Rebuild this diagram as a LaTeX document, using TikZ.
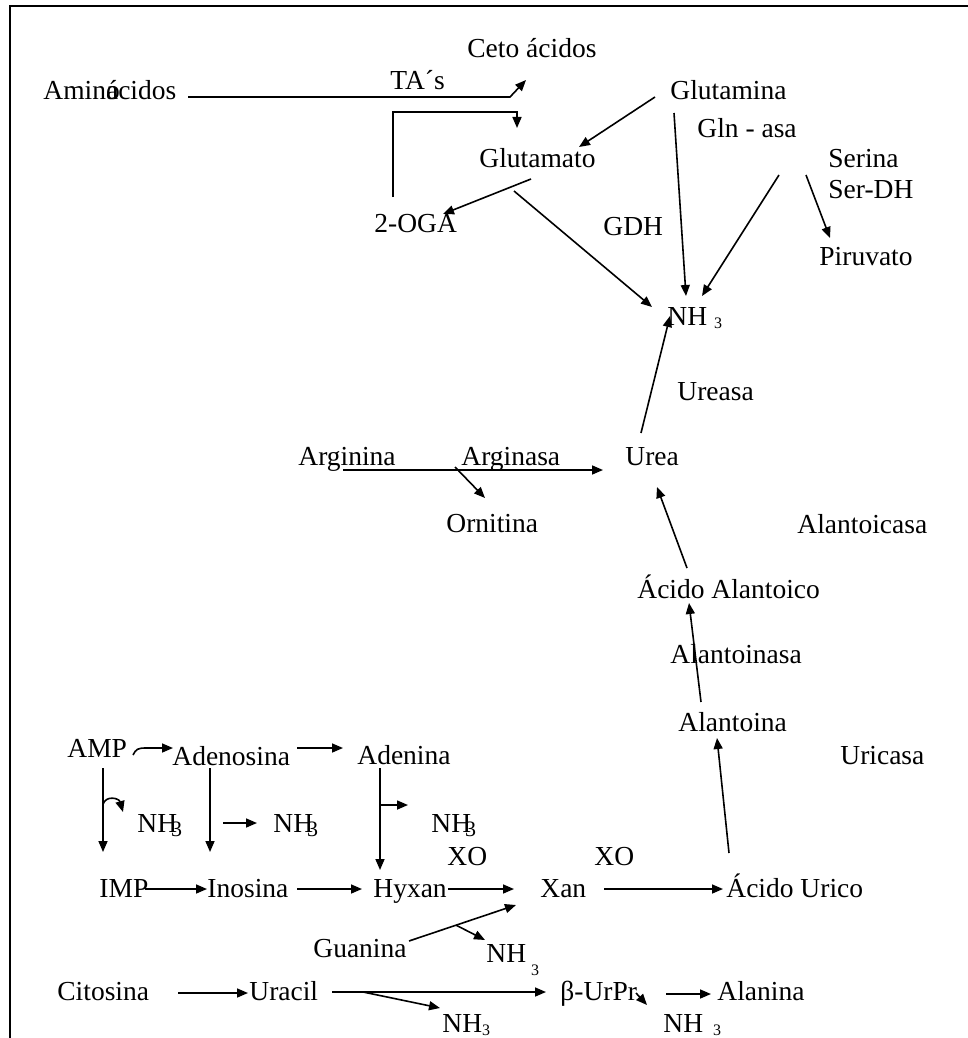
\documentclass[tikz,border=0pt]{standalone}
\usepackage{fontspec}
\setmainfont{Liberation Serif}
\usetikzlibrary{arrows.meta}

\begin{document}
\begin{tikzpicture}[x=0.5pt, y=-0.5pt,
    >={Triangle[length=5.5pt, width=4.5pt]},
    txt/.style={anchor=base west, inner sep=0pt, font=\fontsize{13.75}{16}\selectfont},
    flow/.style={line width=0.8pt, ->}]
    \useasboundingbox (0,0) rectangle (968,1038);
    % The frame
    \draw[line width=1pt] (968,6) -- (10,6) -- (10,1038);

    % Amino acids and glutamate
    \node[txt] (ceto) at (467,58) {Ceto ácidos};
    \node[txt] (tas) at (390,90) {TA´s};
    \node[txt] (amino) at (43,99) {Amin\makebox[0pt][l]{o}ácidos};
    \node[txt] (glutamina) at (670,99) {Glutamina};
    \node[txt] (glnasa) at (697,138) {Gln - asa};
    \node[txt] (glutamato) at (479,167) {Glutamato};
    \node[txt] (serina) at (828,167) {Serina};
    \node[txt] (serdh) at (828,198) {Ser-DH};
    \node[txt] (oga) at (374,232) {2-OGA};
    \node[txt] (gdh) at (603,235) {GDH};
    \node[txt] (piruvato) at (819,265) {Piruvato};
    \node[txt] (nhtop) at (667,325) {NH\hspace{3.5pt}\raisebox{-1.5pt}{\fontsize{8}{8}\selectfont 3}};
    \draw[flow] ([shift={(145,-2)}]amino.base west) -- ++(322,0) -- ([shift={(59,22)}]ceto.base west);
    \draw[flow] ([shift={(19,-35)}]oga.base west) |- ([shift={(38,-55)}]glutamato.base west) -- ([shift={(38,-39)}]glutamato.base west);
    \draw[flow] ([shift={(-15,-2)}]glutamina.base west) -- ([shift={(100,-20)}]glutamato.base west);
    \draw[flow] ([shift={(52,12)}]glutamato.base west) -- ([shift={(69,-18)}]oga.base west);
    \draw[flow] ([shift={(35,24)}]glutamato.base west) -- ([shift={(-15,-18)}]nhtop.base west);
    \draw[flow] ([shift={(4,14)}]glutamina.base west) -- ([shift={(19,-29)}]nhtop.base west);
    \draw[flow] ([shift={(82,37)}]glnasa.base west) -- ([shift={(35,-29)}]nhtop.base west);
    \draw[flow] ([shift={(-22,8)}]serina.base west) -- ([shift={(11,-27)}]piruvato.base west);

    % Urea and allantoin
    \node[txt] (ureasa) at (677,400) {Ureasa};
    \node[txt] (arginina) at (298,465) {Arginina};
    \node[txt] (arginasa) at (461,465) {Arginasa};
    \node[txt] (urea) at (625,465) {Urea};
    \node[txt] (ornitina) at (446,532) {Ornitina};
    \node[txt] (alantoicasa) at (797,533) {Alantoicasa};
    \node[txt] (acalant) at (637,598) {Ácido Alantoico};
    \node[txt] (alantoinasa) at (670,663) {Alantoinasa};
    \node[txt] (alantoina) at (678,731) {Alantoina};
    \node[txt] (uricasa) at (840,764) {Uricasa};
    \draw[flow] ([shift={(16,-32)}]urea.base west) -- ([shift={(3,-9)}]nhtop.base west);
    \draw[flow] ([shift={(45,5)}]arginina.base west) -- ([shift={(-22,5)}]urea.base west);
    \draw[flow] ([shift={(-6,2)}]arginasa.base west) -- ([shift={(39,-34)}]ornitina.base west);
    \draw[flow] ([shift={(50,-30)}]acalant.base west) -- ([shift={(32,22)}]urea.base west);
    \draw[flow] ([shift={(23,-29)}]alantoina.base west) -- ([shift={(52,5)}]acalant.base west);

    % Purines
    \node[txt] (amp) at (67,757) {AMP};
    \node[txt] (adenosina) at (172,765) {Adenosina};
    \node[txt] (adenina) at (357,764) {Adenina};
    \node[txt] (nha) at (137,832) {NH\kern-3pt\raisebox{-2pt}{\fontsize{11}{11}\selectfont 3}};
    \node[txt] (nhb) at (273,832) {NH\kern-3pt\raisebox{-2pt}{\fontsize{11}{11}\selectfont 3}};
    \node[txt] (nhc) at (431,832) {NH\kern-3pt\raisebox{-2pt}{\fontsize{11}{11}\selectfont 3}};
    \node[txt] (xoa) at (447,865) {XO};
    \node[txt] (xob) at (594,865) {XO};
    \node[txt] (imp) at (99,897) {IMP};
    \node[txt] (inosina) at (207,897) {Inosina};
    \node[txt] (hyxan) at (373,897) {Hyxan};
    \node[txt] (xan) at (540,897) {Xan};
    \node[txt] (urico) at (726,897) {Ácido Urico};
    \node[txt] (guanina) at (313,957) {Guanina};
    \node[txt] (nhg) at (486,962) {NH\hspace{2.5pt}\raisebox{-6.5pt}{\fontsize{8}{8}\selectfont 3}};
    \draw[flow] ([shift={(66,-2)}]amp.base west) .. controls +(3,-6) and +(-8,0) .. ++(13,-7) -- ([shift={(1,-17)}]adenosina.base west);
    \draw[flow] ([shift={(125,-17)}]adenosina.base west) -- ([shift={(-14,-16)}]adenina.base west);
    \draw[flow] ([shift={(36,11)}]amp.base west) -- coordinate[pos=0.43] (amphook) ([shift={(4,-45)}]imp.base west);
    \draw[flow] (amphook) .. controls +(3,-9) and +(-4,-14) .. ([shift={(-14,-20)}]nha.base west);
    \draw[flow] ([shift={(38,3)}]adenosina.base west) -- ([shift={(3,-45)}]inosina.base west);
    \draw[flow] ([shift={(-50,-9)}]nhb.base west) -- ([shift={(-16,-9)}]nhb.base west);
    \draw[flow] ([shift={(23,4)}]adenina.base west) -- coordinate[pos=0.363] (adebr) ([shift={(7,-27)}]hyxan.base west);
    \draw[flow] (adebr) -- ([shift={(-23,-27)}]nhc.base west);
    \draw[flow] ([shift={(46,-8)}]imp.base west) -- ([shift={(0,-8)}]inosina.base west);
    \draw[flow] ([shift={(90,-8)}]inosina.base west) -- ([shift={(-11,-8)}]hyxan.base west);
    \draw[flow] ([shift={(75,-8)}]hyxan.base west) -- ([shift={(-26,-8)}]xan.base west);
    \draw[flow] ([shift={(64,-8)}]xan.base west) -- ([shift={(-3,-8)}]urico.base west);
    \draw[flow] ([shift={(96,-16)}]guanina.base west) -- coordinate[pos=0.44] (guabr) ([shift={(-24,8)}]xan.base west);
    \draw[flow] (guabr) -- ([shift={(-1,-22)}]nhg.base west);
    \draw[flow] ([shift={(3,-44)}]urico.base west) -- ([shift={(39,7)}]alantoina.base west);

    % Pyrimidines
    \node[txt] (citosina) at (57,1000) {Citosina};
    \node[txt] (uracil) at (249,1000) {Uracil};
    \node[txt] (beta) at (560,1000) {β-UrPr};
    \node[txt] (alanina) at (717,1000) {Alanina};
    \node[txt] (nhu) at (442,1032) {NH\raisebox{-1.5pt}{\fontsize{8}{8}\selectfont 3}};
    \node[txt] (nhp) at (663,1032) {NH\hspace{5pt}\raisebox{-1.5pt}{\fontsize{8}{8}\selectfont 3}};
    \draw[flow] ([shift={(121,-7)}]citosina.base west) -- ([shift={(-1,-7)}]uracil.base west);
    \draw[flow] ([shift={(83,-8)}]uracil.base west) -- coordinate[pos=0.145] (urabr) ([shift={(-14,-8)}]beta.base west);
    \draw[flow] (urabr) -- ([shift={(-2,-24)}]nhu.base west);
    \draw[flow] ([shift={(76,-7)}]beta.base west) -- ([shift={(-16,-27)}]nhp.base west);
    \draw[flow] ([shift={(106,-6)}]beta.base west) -- ([shift={(-6,-6)}]alanina.base west);
\end{tikzpicture}
\end{document}
